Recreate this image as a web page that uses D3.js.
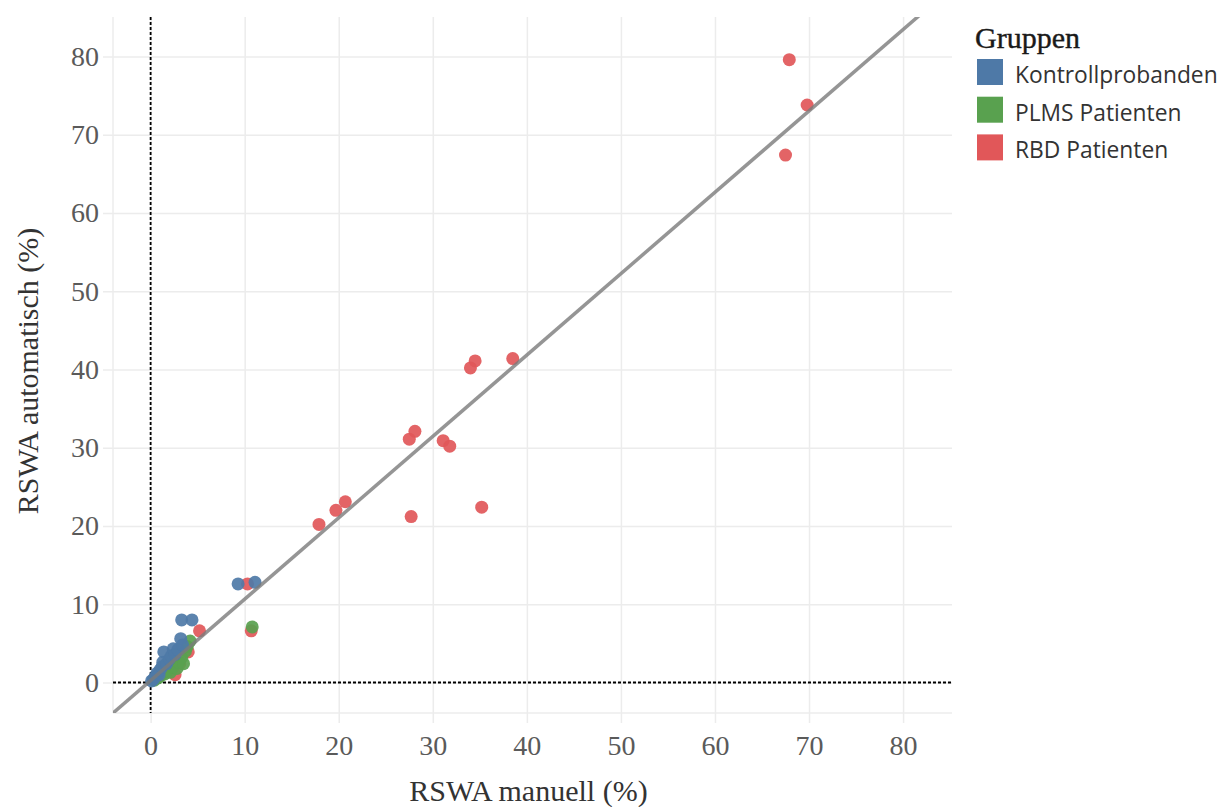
<!DOCTYPE html>
<html>
<head>
<meta charset="utf-8">
<script src="https://cdn.jsdelivr.net/npm/d3@7"></script>
<style>
    body { margin: 0; background: #fff; }
    #chart { width: 1227px; height: 807px; }
</style>
</head>
<body>
<div id="chart"></div>
<script>
// groups and their colors (legend order)
const groups = ["Kontrollprobanden", "PLMS Patienten", "RBD Patienten"];
const colors = ["#4e79a7", "#59a14f", "#e15759"];

// [manuell, automatisch] in %
const kontrollprobanden = [
    [0.1, 0.2], [0.3, 0.4], [0.5, 0.8], [0.7, 1.2], [0.9, 1.0], [1.0, 1.6],
    [1.2, 2.0], [1.3, 2.6], [1.4, 3.9], [1.7, 2.4], [2.0, 3.0], [2.2, 3.4],
    [2.4, 4.3], [2.6, 3.6], [2.9, 4.2], [3.2, 5.6], [3.4, 4.8], [3.3, 8.0],
    [4.4, 8.0], [9.3, 12.6], [11.1, 12.8]
];
const plmsPatienten = [
    [0.4, 0.3], [0.8, 0.6], [1.1, 0.9], [1.5, 1.1], [1.8, 1.5], [2.1, 1.3],
    [2.4, 2.0], [2.8, 1.8], [3.0, 2.6], [3.3, 3.2], [3.5, 2.4], [3.7, 4.0],
    [3.9, 4.6], [4.2, 5.3], [10.8, 7.1]
];
const rbdPatienten = [
    [67.9, 79.6], [69.8, 73.8], [67.5, 67.4], [38.5, 41.4], [34.5, 41.1],
    [34.0, 40.2], [28.1, 32.1], [27.5, 31.1], [31.1, 30.9], [31.8, 30.2],
    [27.7, 21.2], [35.2, 22.4], [20.7, 23.1], [19.7, 22.0], [17.9, 20.2],
    [10.3, 12.6], [10.7, 6.6], [5.2, 6.6], [2.6, 1.0], [3.1, 2.4], [4.0, 3.9]
];

const xTicks = [0, 10, 20, 30, 40, 50, 60, 70, 80];
const yTicks = [0, 10, 20, 30, 40, 50, 60, 70, 80];

// linear trend line
const trendSlope = 1.04;
const trendIntercept = 0.25;

function drawChart(){
    const width = 1227;
    const height = 807;
    const left = 113, right = 952, top = 17, bottom = 713;

    const svg = d3.select("#chart")
        .append("svg")
        .attr("width", width)
        .attr("height", height);

    const x = d3.scaleLinear().domain([-4, 85.2]).range([left, right]);
    const y = d3.scaleLinear().domain([-3.9, 85.05]).range([bottom, top]);

    // axes, tick lines double as gridlines
    const xAxis = svg.append("g")
        .attr("transform", `translate(0,${bottom + 10})`)
        .call(d3.axisBottom(x).tickValues(xTicks).tickSize(-(bottom + 10 - top)).tickPadding(12));
    const yAxis = svg.append("g")
        .attr("transform", `translate(${left - 10},0)`)
        .call(d3.axisLeft(y).tickValues(yTicks).tickSize(-(right - left + 10)).tickPadding(4));

    [xAxis, yAxis].forEach(ax => {
        ax.select(".domain").remove();
        ax.selectAll(".tick line")
            .attr("stroke", "#ececec")
            .attr("stroke-width", 1.5);
        ax.selectAll(".tick text")
            .style("font-family", "'Liberation Serif', 'Times New Roman', serif")
            .style("font-size", "28px")
            .attr("fill", "#5a5a5a");
    });

    // plot border on the left and bottom
    svg.append("line")
        .attr("x1", left).attr("x2", left)
        .attr("y1", top).attr("y2", bottom)
        .attr("stroke", "#ececec").attr("stroke-width", 1.5);
    svg.append("line")
        .attr("x1", left).attr("x2", right)
        .attr("y1", bottom).attr("y2", bottom)
        .attr("stroke", "#ececec").attr("stroke-width", 1.5);

    // dotted zero lines
    svg.append("line")
        .attr("x1", x(0)).attr("x2", x(0))
        .attr("y1", top).attr("y2", bottom)
        .attr("stroke", "#000").attr("stroke-width", 1.8)
        .attr("stroke-dasharray", "3,2");
    svg.append("line")
        .attr("x1", left).attr("x2", right)
        .attr("y1", y(0)).attr("y2", y(0))
        .attr("stroke", "#000").attr("stroke-width", 1.8)
        .attr("stroke-dasharray", "3,2");

    svg.append("clipPath")
        .attr("id", "plotclip")
        .append("rect")
        .attr("x", left).attr("y", top)
        .attr("width", right - left).attr("height", bottom - top);

    // points: red first, blue on top
    const series = [kontrollprobanden, plmsPatienten, rbdPatienten];
    const dots = svg.append("g").attr("clip-path", "url(#plotclip)");
    for(let i = series.length - 1; i >= 0; i--){
        dots.selectAll(null)
            .data(series[i])
            .enter()
            .append("circle")
            .attr("cx", d => x(d[0]))
            .attr("cy", d => y(d[1]))
            .attr("r", 6.5)
            .attr("fill", colors[i])
            .attr("fill-opacity", 0.92);
    }

    // trend line over the points
    const xd = x.domain();
    svg.append("line")
        .attr("clip-path", "url(#plotclip)")
        .attr("x1", x(xd[0]))
        .attr("y1", y(trendSlope * xd[0] + trendIntercept))
        .attr("x2", x(xd[1]))
        .attr("y2", y(trendSlope * xd[1] + trendIntercept))
        .attr("stroke", "#7a7a7a")
        .attr("stroke-opacity", 0.8)
        .attr("stroke-width", 3.5);

    // axis titles
    svg.append("text")
        .attr("x", (left + right) / 2 - 4)
        .attr("y", 801)
        .attr("text-anchor", "middle")
        .style("font-family", "'Liberation Serif', 'Times New Roman', serif")
        .style("font-size", "30px")
        .style("fill", "#333")
        .text("RSWA manuell (%)");
    svg.append("text")
        .attr("transform", `translate(38,${(top + bottom) / 2 + 6}) rotate(-90)`)
        .attr("text-anchor", "middle")
        .style("font-family", "'Liberation Serif', 'Times New Roman', serif")
        .style("font-size", "30px")
        .style("fill", "#333")
        .text("RSWA automatisch (%)");

    // legend
    const legend = svg.append("g");
    legend.append("text")
        .attr("x", 975)
        .attr("y", 48)
        .style("font-family", "'Liberation Serif', 'Times New Roman', serif")
        .style("font-size", "30px")
        .style("fill", "#1a1a1a")
        .style("stroke", "#1a1a1a")
        .style("stroke-width", 0.4)
        .text("Gruppen");
    groups.forEach((g, i) => {
        legend.append("rect")
            .attr("x", 977)
            .attr("y", 59 + i * 37.7)
            .attr("width", 26)
            .attr("height", 26)
            .attr("fill", colors[i]);
        legend.append("text")
            .attr("x", 1015)
            .attr("y", 83 + i * 37.7)
            .style("font-family", "'Open Sans', sans-serif")
            .style("font-size", "22.8px")
            .style("fill", "#333")
            .text(g);
    });
}

drawChart();
</script>
</body>
</html>
